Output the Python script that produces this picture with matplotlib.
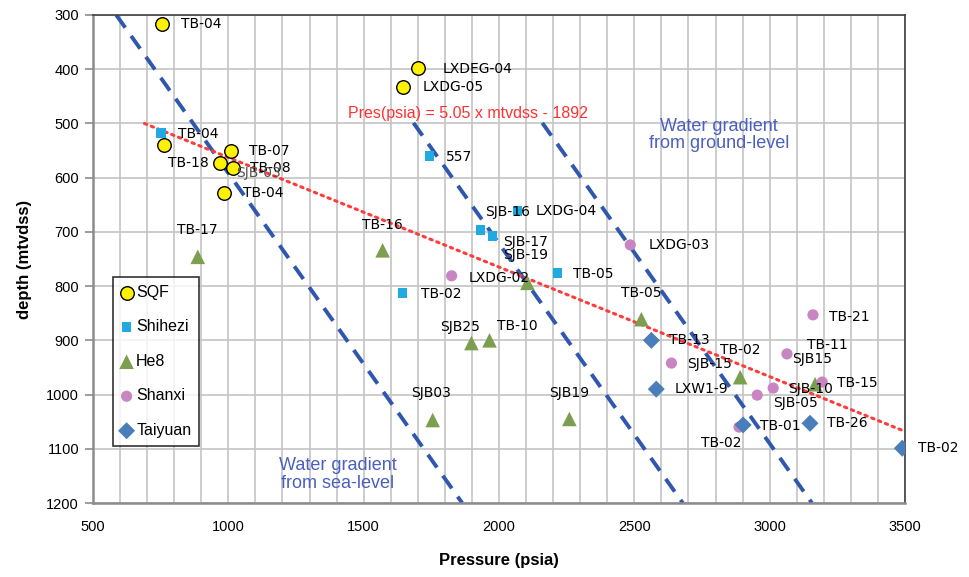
import matplotlib
matplotlib.use('Agg')
import matplotlib.pyplot as plt

# ---------------- data ----------------
sqf_p = [755, 1700, 1647, 762, 1009, 968, 1017, 983]
sqf_d = [317, 398, 433, 540, 551, 573, 582, 628]
sqf_lab = ["TB-04", "LXDEG-04", "LXDG-05", "", "TB-07", "TB-18", "TB-08", "TB-04"]

shz_p = [751, 1743, 2068, 1932, 1976, 2216, 1644]
shz_d = [518, 560, 662, 697, 708, 776, 813]
shz_lab = ["TB-04", "557", "LXDG-04", "SJB-16", "SJB-17", "TB-05", "TB-02"]

he8_p = [887, 1570, 2105, 2526, 1898, 1965, 1755, 2260, 2891, 3168]
he8_d = [746, 734, 794, 861, 905, 900, 1047, 1045, 968, 981]
he8_lab = ["TB-17", "TB-16", "", "TB-05", "SJB25", "TB-10", "SJB03", "SJB19", "TB-02", ""]

shx_p = [1825, 2485, 3160, 3064, 2637, 3013, 2954, 3194, 2887]
shx_d = [781, 724, 853, 925, 942, 988, 1001, 977, 1060]
shx_lab = ["LXDG-02", "LXDG-03", "TB-21", "SJB15", "SJB-15", "SJB-10", "SJB-05", "TB-15", "TB-02"]

tai_p = [2563, 2581, 2902, 3149, 3490]
tai_d = [900, 990, 1056, 1053, 1099]
tai_lab = ["TB-13", "LXW1-9", "TB-01", "TB-26", "TB-02"]

# extra labels: (text, series, index)
extra_lab = [("SJB-03", "sqf", 6), ("SJB-19", "shz", 4), ("TB-11", "shx", 3)]

# trend line (red dotted)
trend_p = [690, 3500]
trend_d = [500, 1068]

# water gradient lines (blue dashed)
sea_p = [586, 1864]
sea_d = [300, 1200]
gl1_p = [1684, 2679]
gl1_d = [499, 1200]
gl2_p = [2160, 3156]
gl2_d = [499, 1200]

x_ticks = [500, 1000, 1500, 2000, 2500, 3000, 3500]
y_ticks = [300, 400, 500, 600, 700, 800, 900, 1000, 1100, 1200]

# ---------------- label offsets (px right, px down, align) ----------------
sqf_off = [(19, 0, 'left'), (25, 1, 'left'), (19, 0, 'left'), None, (18, 0, 'left'),
           (-11, 0, 'right'), (17, 0, 'left'), (19, 0, 'left')]
shz_off = [(17, 1, 'left'), (16, 1, 'left'), (18, 0, 'left'), (5, -18, 'left'),
           (11, 6, 'left'), (16, 1, 'left'), (18, 1, 'left')]
he8_off = [(0, -27, 'center'), (0, -25, 'center'), None, (0, -26, 'center'),
           (-11, -16, 'center'), (28, -14, 'center'), (-2, -27, 'center'),
           (0, -26, 'center'), (0, -27, 'center'), None]
shx_off = [(17, 2, 'left'), (18, 0, 'left'), (16, 2, 'left'), (5, 5, 'left'),
           (16, 1, 'left'), (15, 1, 'left'), (16, 8, 'left'), (15, 1, 'left'),
           (-18, 16, 'center')]
tai_off = [(18, 0, 'left'), (18, 0, 'left'), (17, 1, 'left'), (17, 0, 'left'), (16, 0, 'left')]
extra_off = [(3, 5, 'left', '#555555'), (11, 19, 'left', 'black'), (20, -9, 'left', 'black')]

narrow = ['Liberation Sans', 'DejaVu Sans']

fig = plt.figure(figsize=(9.69, 5.77), dpi=100)
ax = fig.add_axes([93 / 969, 74 / 577, 812 / 969, 488 / 577])

ax.set_xlim(500, 3500)
ax.set_ylim(1200, 300)
ax.set_xticks(x_ticks)
ax.set_yticks(y_ticks)
ax.set_xticks(range(500, 3501, 100), minor=True)
ax.grid(True, which='both', axis='x', color='#C4C4C4', lw=1.2, zorder=0)
ax.grid(True, which='major', axis='y', color='#C4C4C4', lw=1.2, zorder=0)
ax.set_axisbelow(True)
ax.tick_params(axis='x', which='both', length=0, pad=12)
ax.tick_params(axis='y', which='major', length=6, color='#8C8C8C', width=1.2, pad=4)
for lab in ax.get_xticklabels() + ax.get_yticklabels():
    lab.set_family(narrow)
    lab.set_fontsize(10.5)
for side in ['left', 'bottom']:
    ax.spines[side].set_color('#8C8C8C')
    ax.spines[side].set_linewidth(1.8)
for side in ['top', 'right']:
    ax.spines[side].set_color('#404040')
    ax.spines[side].set_linewidth(1.2)

# lines
ax.plot(sea_p, sea_d, color='#2F57AE', lw=2.8, ls=(0, (4, 2.6)), zorder=2)
ax.plot(gl1_p, gl1_d, color='#2F57AE', lw=2.8, ls=(0, (4, 2.6)), zorder=2)
ax.plot(gl2_p, gl2_d, color='#2F57AE', lw=2.8, ls=(0, (4, 2.6)), zorder=2)
ax.plot(trend_p, trend_d, color='#FF3B3B', lw=2.2, ls=(0, (0.8, 1.6)), zorder=2,
        dash_capstyle='round')

# series
s1 = ax.scatter(sqf_p, sqf_d, s=95, marker='o', facecolor='#FFF200', edgecolor='black',
                lw=1.0, zorder=4, label='SQF')
s2 = ax.scatter(shz_p, shz_d, s=48, marker='s', facecolor='#21A9E1', edgecolor='none',
                zorder=5, label='Shihezi')
s3 = ax.scatter(he8_p, he8_d, s=110, marker='^', facecolor='#7C9F4F', edgecolor='none',
                zorder=6, label='He8')
s4 = ax.scatter(shx_p, shx_d, s=65, marker='o', facecolor='#C985C2', edgecolor='none',
                zorder=7, label='Shanxi')
s5 = ax.scatter(tai_p, tai_d, s=75, marker='D', facecolor='#4A7EBB', edgecolor='none',
                zorder=8, label='Taiyuan')


def put_labels(ps, ds, labs, offs):
    for p, d, t, o in zip(ps, ds, labs, offs):
        if not t or o is None:
            continue
        dx, dy, ha = o
        ax.annotate(t, (p, d), xytext=(dx * 0.72, -dy * 0.72), textcoords='offset points',
                    ha=ha, va='center', fontsize=10, color='black', zorder=10,
                    annotation_clip=False)


put_labels(sqf_p, sqf_d, sqf_lab, sqf_off)
put_labels(shz_p, shz_d, shz_lab, shz_off)
put_labels(he8_p, he8_d, he8_lab, he8_off)
put_labels(shx_p, shx_d, shx_lab, shx_off)
put_labels(tai_p, tai_d, tai_lab, tai_off)

series = {"sqf": (sqf_p, sqf_d), "shz": (shz_p, shz_d), "shx": (shx_p, shx_d)}
for (t, sname, i), (dx, dy, ha, col) in zip(extra_lab, extra_off):
    ps, ds = series[sname]
    ax.annotate(t, (ps[i], ds[i]), xytext=(dx * 0.72, -dy * 0.72), textcoords='offset points',
                ha=ha, va='center', fontsize=10, color=col, zorder=10)

# annotations
ax.text(1884, 481, 'Pres(psia) = 5.05 x mtvdss - 1892', color='#FF3030', fontsize=11.5,
        family=narrow, ha='center', va='center', zorder=9)
ax.text(2813, 521, 'Water gradient\nfrom ground-level', color='#4A5FBF', fontsize=13,
        family=narrow, ha='center', va='center', linespacing=1.05, zorder=9)
ax.text(1404, 1148, 'Water gradient\nfrom sea-level', color='#4A5FBF', fontsize=13,
        family=narrow, ha='center', va='center', linespacing=1.05, zorder=9)

ax.set_xlabel('Pressure (psia)', fontsize=12, fontweight='bold', family=narrow, labelpad=14)
ax.set_ylabel('depth (mtvdss)', fontsize=12, fontweight='bold', family=narrow, labelpad=10)

leg = ax.legend(handles=[s1, s2, s3, s4, s5], loc='upper left',
                bbox_to_anchor=((113 - 93) / 812, (503 - 277) / 488),
                frameon=True, fancybox=False, edgecolor='black',
                handlelength=0.7, handletextpad=0.25, labelspacing=1.22,
                borderpad=0.5, borderaxespad=0, markerscale=1.0, scatterpoints=1,
                prop={'family': narrow, 'size': 11.5})
leg.get_frame().set_linewidth(1.2)
leg.set_zorder(11)

fig.savefig('out.png', dpi=100)
